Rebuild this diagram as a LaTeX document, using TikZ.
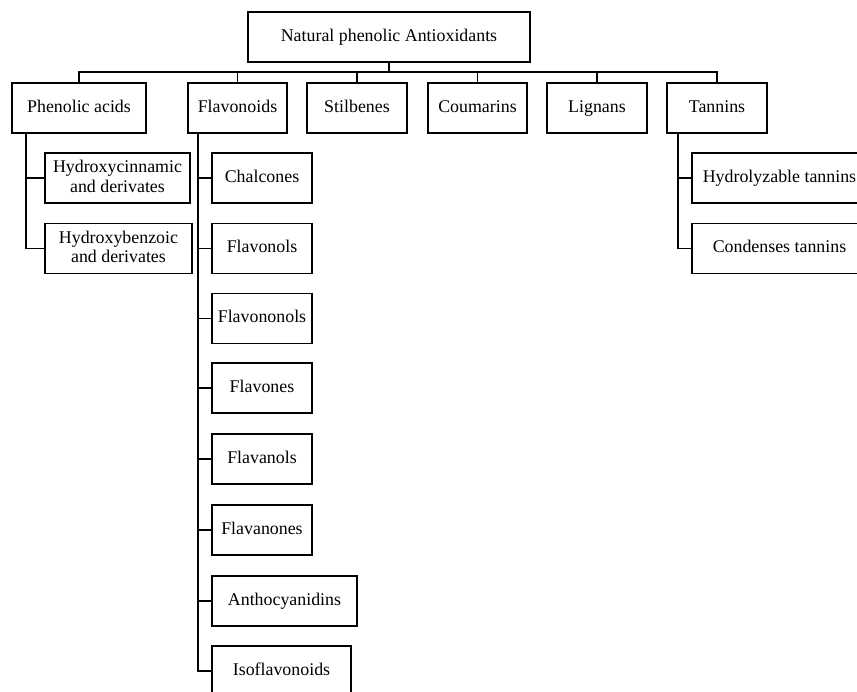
\documentclass[tikz,border=0pt]{standalone}
\usepackage{fontspec}
\setmainfont{Liberation Serif}
\usepackage{tikz}
\usetikzlibrary{positioning}

\begin{document}
\begin{tikzpicture}[
x=0.75pt,
y=-0.75pt,
every node/.style={font=\fontsize{13.4}{14.4}\selectfont},
treebox/.style={rectangle,draw,line width=1pt,align=center,inner sep=1pt,text height=9.4pt,text depth=2.8pt,minimum height=37.5pt,minimum width=75pt},
twoline/.style={text height=23.8pt},
treeline/.style={line width=1pt}
]
\useasboundingbox (0,0) rectangle (857,692);

\node[treebox,minimum width=211.5pt] (root) at (389,37) {Natural phenolic Antioxidants};

\node[treebox,minimum width=100.5pt] (phen) at (79,108) {Phenolic acids};
\node[treebox,minimum width=74.25pt] (flav) at (237.5,108) {Flavonoids};
\node[treebox] (stil) at (357,108) {Stilbenes};
\node[treebox,minimum width=74.25pt] (coum) at (477.5,108) {Coumarins};
\node[treebox] (lign) at (597,108) {Lignans};
\node[treebox] (tann) at (717,108) {Tannins};

\node[treebox,twoline,minimum width=108.75pt] (hcin) at (117.5,178) {Hydroxycinnamic\\and derivates};
\node[treebox,twoline,minimum width=110.25pt] (hben) at (118.5,248.5) {Hydroxybenzoic\\and derivates};

\node[treebox] (chal) at (262,178) {Chalcones};
\node[treebox] (flvl) at (262,248.5) {Flavonols};
\node[treebox] (flnl) at (262,318.5) {Flavononols};
\node[treebox] (flvn) at (262,388) {Flavones};
\node[treebox] (flan) at (262,459) {Flavanols};
\node[treebox] (flnn) at (262,530) {Flavanones};
\node[treebox,minimum width=108.75pt] (anth) at (284.5,601) {Anthocyanidins};
\node[treebox,minimum width=104.25pt] (isof) at (281.5,671) {Isoflavonoids};

\node[treebox,minimum width=131.25pt] (hydr) at (779.5,178) {Hydrolyzable tannins};
\node[treebox,minimum width=131.25pt] (cond) at (779.5,248.5) {Condenses tannins};

% main bus
\coordinate (bus) at (0,72);
\draw[treeline] (root.south) -- (root.south |- bus);
\draw[treeline] (phen.north) -- (phen.north |- bus) -- (tann.north |- bus) -- (tann.north);
\draw[treeline] (flav.north) -- (flav.north |- bus);
\draw[treeline] (stil.north) -- (stil.north |- bus);
\draw[treeline] (coum.north) -- (coum.north |- bus);
\draw[treeline] (lign.north) -- (lign.north |- bus);

% side rails
\coordinate (phenrail) at (26,133);
\coordinate (flavrail) at (198,133);
\coordinate (tannrail) at (678,133);

\draw[treeline] (phenrail) |- (hben.west);
\draw[treeline] (hcin.west) -- (hcin.west -| phenrail);

\draw[treeline] (flavrail) |- (isof.west);
\draw[treeline] (chal.west) -- (chal.west -| flavrail);
\draw[treeline] (flvl.west) -- (flvl.west -| flavrail);
\draw[treeline] (flnl.west) -- (flnl.west -| flavrail);
\draw[treeline] (flvn.west) -- (flvn.west -| flavrail);
\draw[treeline] (flan.west) -- (flan.west -| flavrail);
\draw[treeline] (flnn.west) -- (flnn.west -| flavrail);
\draw[treeline] (anth.west) -- (anth.west -| flavrail);

\draw[treeline] (tannrail) |- (cond.west);
\draw[treeline] (hydr.west) -- (hydr.west -| tannrail);
\end{tikzpicture}
\end{document}
